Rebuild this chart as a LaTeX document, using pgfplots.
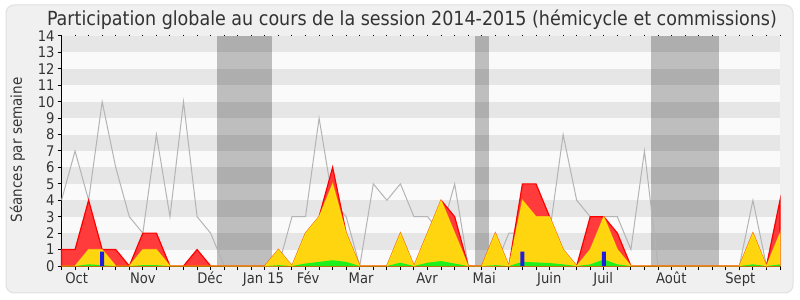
\documentclass[border=0pt]{standalone}
\usepackage{pgfplots}
\usepackage{pgfplotstable}
\pgfplotsset{compat=1.18}
\usepackage{fontspec}
\setmainfont{DejaVu Sans Condensed}
\definecolor{panel}{HTML}{F0F0F0}
\definecolor{panelline}{HTML}{E0E0E0}
\definecolor{stripe}{HTML}{E6E6E6}
\definecolor{light}{HTML}{FAFAFA}
\definecolor{redfill}{HTML}{FF3B3B}
\definecolor{redline}{HTML}{FF0000}
\definecolor{yelfill}{HTML}{FFD510}
\definecolor{yelline}{HTML}{FFFF00}
\definecolor{grnfill}{HTML}{1EF01E}
\definecolor{barblue}{HTML}{1E1EDC}
\definecolor{greyline}{HTML}{B4B4B4}
\definecolor{txt}{HTML}{333333}

\pgfplotstableread{
i red yel grn grey
0 1 0 0 4
1 1 0 0 7
2 4 1 0.1 4
3 1 1 0.05 10
4 1 0 0 6
5 0 0 0 3
6 2 1 0.05 2
7 2 1 0.05 8
8 0 0 0 3
9 0 0 0 10
10 1 0 0 3
11 0 0 0 2
12 0 0 0 0
13 0 0 0 0
14 0 0 0 0
15 0 0 0 0
16 1 1 0.05 0
17 0 0 0 3
18 2 2 0.15 3
19 3 3 0.25 9
20 6 5 0.35 4
21 2 2 0.25 3
22 0 0 0 0
23 0 0 0 5
24 0 0 0 4
25 2 2 0.2 5
26 0 0 0 3
27 2 2 0.2 3
28 4 4 0.3 2
29 3 2 0.15 5
30 0 0 0 0
31 0 0 0 0
32 2 2 0.05 0
33 0 0 0 2
34 5 4 0.25 2
35 5 3 0.22 4
36 3 3 0.18 2
37 1 1 0.1 8
38 0 0 0 4
39 3 1 0.1 3
40 3 3 0.4 3
41 2 1 0.1 3
42 0 0 0 1
43 0 0 0 7
44 0 0 0 0
45 0 0 0 0
46 0 0 0 0
47 0 0 0 0
48 0 0 0 0
49 0 0 0 0
50 0 0 0 0
51 2 2 0.1 4
52 0 0 0 0
53 4 2 0.1 4
}\data

\begin{document}
\begin{tikzpicture}
\fill[white] (0bp,0bp) rectangle (600bp,225bp);
\filldraw[fill=panel, draw=panelline, line width=0.75bp, rounded corners=6bp] (4.5bp,5.25bp) rectangle (594.75bp,221.25bp);
\node[anchor=base, text=txt, font=\fontsize{14.65}{16}\selectfont] at (309bp,205.7bp) {Participation globale au cours de la session 2014-2015 (hémicycle et commissions)};
\node[rotate=90, text=txt, font=\fontsize{11.3}{13}\selectfont] at (13.1bp,112.5bp) {Séances par semaine};
\begin{axis}[
  at={(46.125bp,25.5bp)}, anchor=south west,
  scale only axis, width=538.9bp, height=172.5bp,
  xmin=0, xmax=53, ymin=0, ymax=14,
  axis x line*=bottom, axis y line*=left,
  axis line style={black, line width=0.75bp, -},
  tick align=outside, major tick length=3bp,
  tick style={black, line width=0.75bp},
  xtick={0,...,53}, xticklabels={},
  ytick={0,...,14},
  /pgf/number format/assume math mode=true,
  ticklabel style={text=txt, font=\fontsize{11}{13}\selectfont},
  yticklabel style={anchor=east, inner sep=0pt, xshift=-2bp},
  extra x ticks={1.12,6.0,10.96,14.9,18.19,22.1,26.97,31.18,35.98,39.96,44.98,50.07},
  extra x tick labels={Oct,Nov,Déc,Jan 15,Fév,Mar,Avr,Mai,Juin,Juil,Août,Sept},
  extra x tick style={major tick length=0pt, xticklabel style={anchor=base, inner sep=0pt, yshift=-13bp}},
  clip=false,
]
\pgfplotsinvokeforeach{0,2,...,12}{\fill[light] (axis cs:0,#1) rectangle (axis cs:53,#1+1);}
\pgfplotsinvokeforeach{1,3,...,13}{\fill[stripe] (axis cs:0,#1) rectangle (axis cs:53,#1+1);}
\addplot[fill=black, fill opacity=0.24, draw=none] coordinates {(11.5,14)(15.5,14)} \closedcycle;
\addplot[fill=black, fill opacity=0.24, draw=none] coordinates {(30.5,14)(31.5,14)} \closedcycle;
\addplot[fill=black, fill opacity=0.24, draw=none] coordinates {(43.5,14)(48.5,14)} \closedcycle;
\addplot[greyline, line width=0.75bp, mark=none] table[x=i,y=grey] {\data};
\addplot[fill=redfill, draw=redline, line width=0.9bp, mark=none] table[x=i,y=red] {\data} \closedcycle;
\addplot[fill=yelfill, draw=yelline, draw opacity=0.5, line width=0.9bp, mark=none] table[x=i,y=yel] {\data} \closedcycle;
\addplot[fill=grnfill, draw=none, mark=none] table[x=i,y=grn] {\data} \closedcycle;
\addplot[ybar, bar width=3bp, fill=barblue, draw=none] coordinates {(3,0.87)(34,0.87)(40,0.87)};
\end{axis}
\begin{axis}[
  at={(46.125bp,25.5bp)}, anchor=south west,
  scale only axis, width=538.9bp, height=172.5bp,
  xmin=0, xmax=53, ymin=0, ymax=14,
  axis x line*=top, hide y axis,
  axis line style={draw=none},
  tick align=outside, major tick length=0.9bp,
  tick style={black, line width=0.75bp},
  xtick={0,...,53}, xticklabels={},
]
\end{axis}
\end{tikzpicture}
\end{document}
